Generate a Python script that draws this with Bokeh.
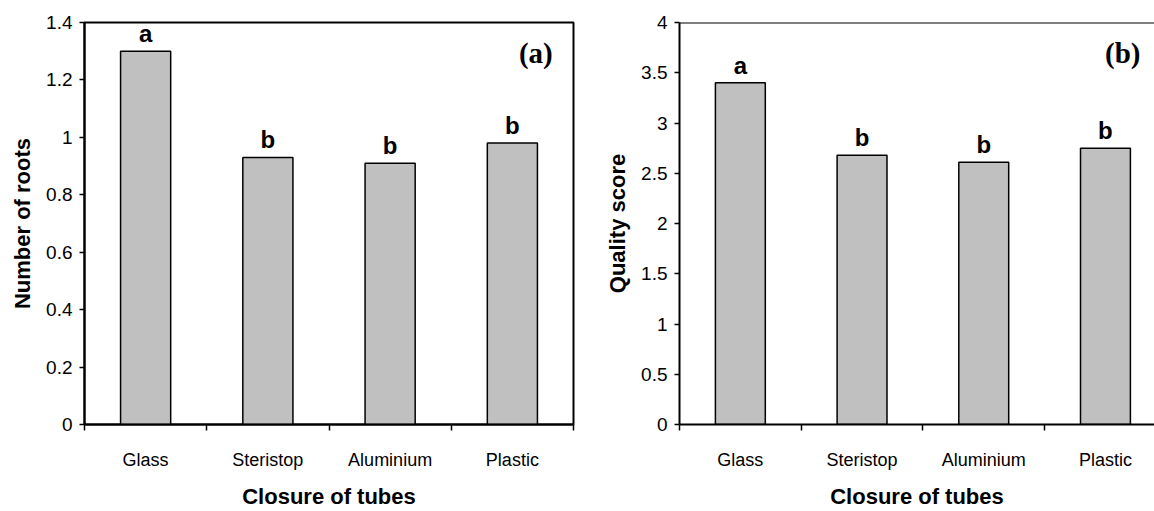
from bokeh.plotting import figure
from bokeh.models import (ColumnDataSource, FixedTicker, NumeralTickFormatter,
                          Label, Span, Range1d)
from bokeh.layouts import row
from bokeh.core.properties import value
from bokeh.embed import file_html
from bokeh.resources import INLINE

categories = ["Glass", "Steristop", "Aluminium", "Plastic"]
roots = [1.30, 0.93, 0.91, 0.98]
roots_letters = ["a", "b", "b", "b"]
quality = [3.40, 2.68, 2.61, 2.75]
quality_letters = ["a", "b", "b", "b"]
roots_ticks = [0, 0.2, 0.4, 0.6, 0.8, 1.0, 1.2, 1.4]
quality_ticks = [0, 0.5, 1, 1.5, 2, 2.5, 3, 3.5, 4]

SANS = "Liberation Sans"
SERIF = "Liberation Serif"


def make_panel(vals, letters, yticks, ymax, ylabel, tag, width, border_left,
               border_right, xend, outline, tag_x, tag_y):
    centers = [i + 0.5 for i in range(len(categories))]
    src = ColumnDataSource(dict(x=centers, top=vals, lab=letters))
    p = figure(width=width, height=511, output_backend="svg", toolbar_location=None,
               x_range=Range1d(0, xend), y_range=Range1d(0, ymax),
               min_border_left=border_left, min_border_right=border_right,
               min_border_top=22, min_border_bottom=77)
    p.background_fill_color = "white"
    p.border_fill_color = "white"
    p.xgrid.grid_line_color = None
    p.ygrid.grid_line_color = None
    if outline:
        p.outline_line_color = "black"
        p.outline_line_width = 2
    else:
        p.outline_line_color = None
        p.add_layout(Span(location=ymax, dimension="width", line_color="black",
                          line_width=2))

    p.vbar(x="x", top="top", bottom=0, width=0.41, source=src,
           fill_color="#C0C0C0", line_color="black", line_width=1.5)
    p.text(x="x", y="top", text="lab", source=src, text_font=value(SANS),
           text_font_style="bold", text_font_size="24px", text_align="center",
           text_baseline="bottom", y_offset=-4, text_color="black")

    # x axis
    xa = p.xaxis[0]
    xa.ticker = FixedTicker(ticks=centers, minor_ticks=list(range(len(categories) + 1)))
    xa.major_label_overrides = {c: n for c, n in zip(centers, categories)}
    xa.major_tick_line_color = None
    xa.major_tick_out = 0
    xa.major_tick_in = 0
    xa.minor_tick_out = 6
    xa.minor_tick_in = 0
    xa.minor_tick_line_color = "black"
    xa.minor_tick_line_width = 1.5
    xa.axis_line_color = "black"
    xa.axis_line_width = 2
    xa.major_label_text_font = SANS
    xa.major_label_text_font_size = "18px"
    xa.major_label_text_color = "black"
    xa.major_label_standoff = 19
    xa.axis_label = "Closure of tubes"
    xa.axis_label_text_font = SANS
    xa.axis_label_text_font_style = "bold"
    xa.axis_label_text_font_size = "22px"
    xa.axis_label_text_color = "black"
    xa.axis_label_standoff = 11

    # y axis
    ya = p.yaxis[0]
    ya.ticker = FixedTicker(ticks=yticks, minor_ticks=[])
    ya.formatter = NumeralTickFormatter(format="0.[0]")
    ya.major_tick_out = 5
    ya.major_tick_in = 0
    ya.major_tick_line_color = "black"
    ya.major_tick_line_width = 1.5
    ya.minor_tick_line_color = None
    ya.axis_line_color = "black"
    ya.axis_line_width = 2
    ya.major_label_text_font = SANS
    ya.major_label_text_font_size = "19px"
    ya.major_label_text_color = "black"
    ya.major_label_standoff = 7
    ya.axis_label = ylabel
    ya.axis_label_text_font = SANS
    ya.axis_label_text_font_style = "bold"
    ya.axis_label_text_font_size = "22px"
    ya.axis_label_text_color = "black"
    ya.axis_label_standoff = 8

    p.add_layout(Label(x=tag_x, y=tag_y, text=tag, text_font=SERIF,
                       text_font_style="bold", text_font_size="29px",
                       text_align="right", text_baseline="middle",
                       text_color="black"))
    return p


pa = make_panel(roots, roots_letters, roots_ticks, 1.4, "Number of roots", "(a)",
                580, 84, 7, 4.0, True, 3.83, 1.295)
pb = make_panel(quality, quality_letters, quality_ticks, 4.0, "Quality score", "(b)",
                574, 99, 0, 3.903, False, 3.788, 3.70)

layout = row(pa, pb)
open("out.html", "w").write(file_html(layout, INLINE))
